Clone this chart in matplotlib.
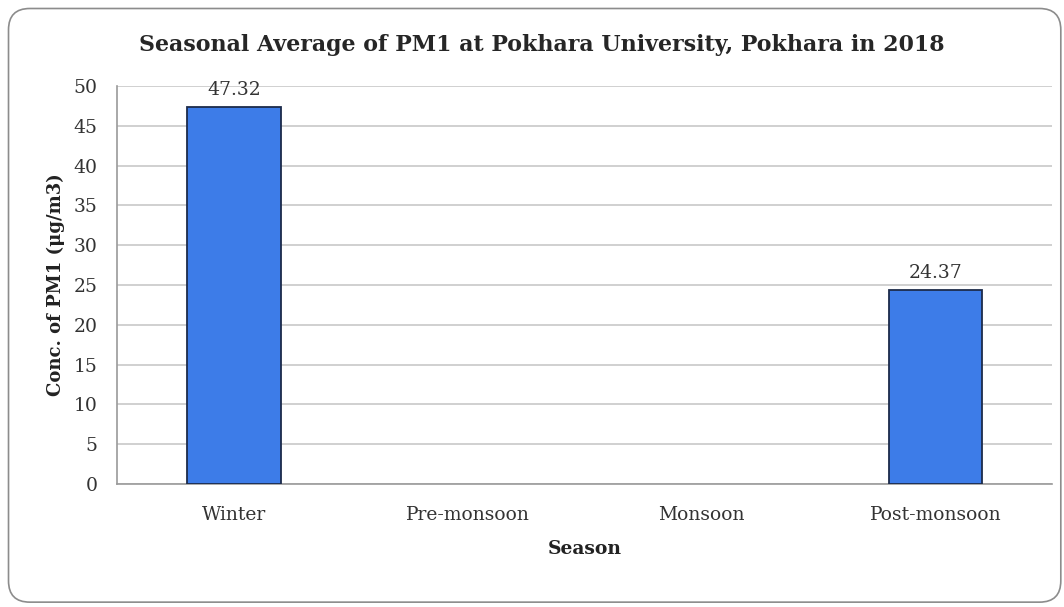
import matplotlib
matplotlib.use("Agg")
import matplotlib.pyplot as plt
from matplotlib.patches import FancyBboxPatch
import numpy as np

seasons = ["Winter", "Pre-monsoon", "Monsoon", "Post-monsoon"]
values = [47.32, np.nan, np.nan, 24.37]
labels = ["47.32", "", "", "24.37"]
yticks = [0, 5, 10, 15, 20, 25, 30, 35, 40, 45, 50]

plt.rcParams['font.family'] = ['DejaVu Serif']

fig = plt.figure(figsize=(10.64, 6.07), dpi=100)
border = FancyBboxPatch((0.008, 0.008), 0.989, 0.978,
                        boxstyle="round,pad=0,rounding_size=0.02",
                        transform=fig.transFigure, facecolor="none",
                        edgecolor="#8c8c8c", linewidth=1.2, mutation_aspect=1064/607,
                        zorder=-1)
fig.patches.append(border)

ax = fig.add_axes([0.110, 0.2026, 0.879, 0.6557])
ax.set_facecolor("none")
x = np.arange(len(seasons))
heights = [0 if np.isnan(v) else v for v in values]
bars = ax.bar(x, heights, width=0.40, color="#3d7ce8", edgecolor="#1c2b4a", linewidth=1.3, zorder=3)
for i, b in enumerate(bars):
    if np.isnan(values[i]):
        b.set_visible(False)
    else:
        ax.annotate(labels[i], (b.get_x() + b.get_width() / 2, values[i]),
                    xytext=(0, 6), textcoords="offset points", ha="center", va="bottom",
                    fontsize=13.5, color="#333333")

ax.set_xlim(-0.5, 3.5)
ax.set_ylim(0, 50)
ax.set_yticks(yticks)
ax.set_xticks(x)
ax.set_xticklabels(seasons)
ax.tick_params(axis="both", length=0, labelsize=13.5, labelcolor="#333333")
ax.tick_params(axis="x", pad=16)
ax.tick_params(axis="y", pad=14)
ax.yaxis.grid(True, color="#c8c8c8", linewidth=1.2, zorder=0)
ax.set_axisbelow(True)
for s in ["top", "right"]:
    ax.spines[s].set_visible(False)
ax.spines["left"].set_color("#9a9a9a")
ax.spines["bottom"].set_color("#9a9a9a")
ax.spines["left"].set_linewidth(1.2)
ax.spines["bottom"].set_linewidth(1.2)

ax.set_xlabel("Season", fontsize=13.5, fontweight="bold", labelpad=11, color="#222222")
ax.set_ylabel("Conc. of PM1 (μg/m3)", fontsize=13, fontweight="bold", labelpad=6, color="#222222")
fig.text(0.5095, 0.926, "Seasonal Average of PM1 at Pokhara University, Pokhara in 2018",
         ha="center", va="center", fontsize=15.9, fontweight="bold", color="#262626")

fig.savefig("out.png", dpi=100)
